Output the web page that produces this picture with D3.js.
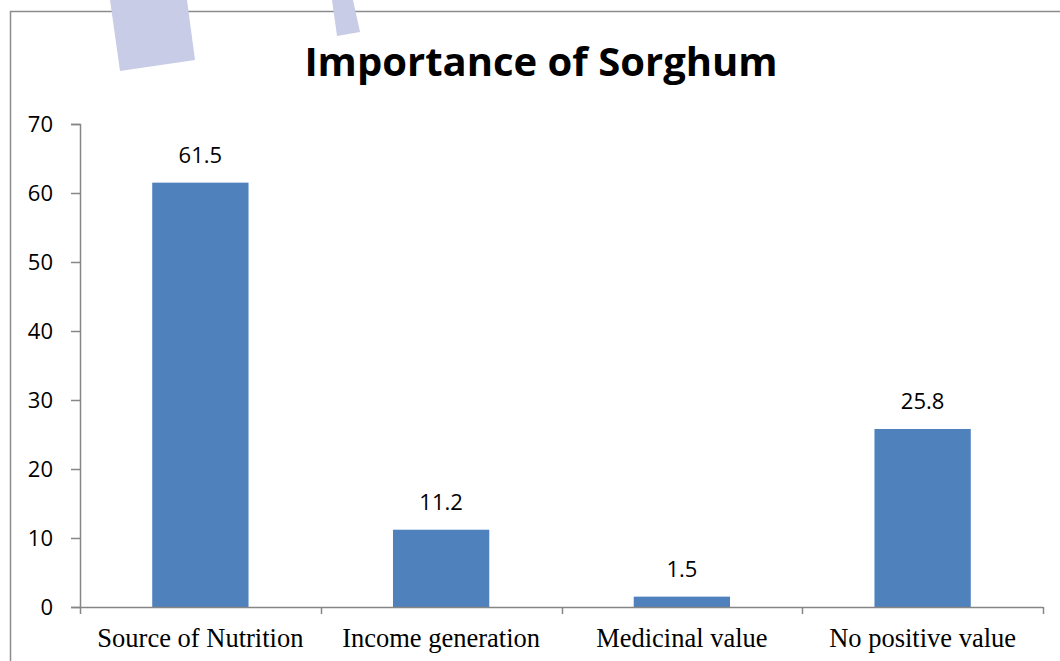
<!DOCTYPE html>
<html>
<head>
<meta charset="utf-8">
<script src="https://cdn.jsdelivr.net/npm/d3@7"></script>
<style>
  body { margin: 0; background: #fff; }
  svg { display: block; }
</style>
</head>
<body>
<figure id="chart" style="margin:0"></figure>
<script>
const categories = ["Source of Nutrition", "Income generation", "Medicinal value", "No positive value"];
const values = [61.5, 11.2, 1.5, 25.8];
const yTicks = [0, 10, 20, 30, 40, 50, 60, 70];

const width = 1060, height = 661;
const margin = { top: 124, right: 17, bottom: 54, left: 80 };

const svg = d3.select("figure#chart")
  .append("svg")
  .attr("width", width)
  .attr("height", height);

// outer frame (only left and top show in the crop)
svg.append("path")
  .attr("d", `M10.5,${height} V11.5 H${width}`)
  .attr("fill", "none")
  .attr("stroke", "#8c8c8c")
  .attr("stroke-width", 1.5);

const x = d3.scaleBand()
  .domain(categories)
  .range([margin.left, width - margin.right])
  .paddingInner(0.6)
  .paddingOuter(0.3);

const y = d3.scaleLinear()
  .domain([0, 70])
  .range([height - margin.bottom, margin.top]);

// bars
svg.selectAll("rect.bar")
  .data(values)
  .enter().append("rect")
  .attr("class", "bar")
  .attr("x", (d, i) => x(categories[i]))
  .attr("width", x.bandwidth())
  .attr("y", d => y(d))
  .attr("height", d => y(0) - y(d))
  .attr("fill", "#4f81bd");

// value labels
svg.selectAll("text.val")
  .data(values)
  .enter().append("text")
  .attr("class", "val")
  .attr("x", (d, i) => x(categories[i]) + x.bandwidth() / 2)
  .attr("y", d => y(d) - 20)
  .attr("text-anchor", "middle")
  .style("font-family", "'Open Sans', sans-serif")
  .style("font-size", "22px")
  .text(d => d);

// y axis
const yAxis = svg.append("g")
  .attr("transform", `translate(${margin.left},0)`)
  .call(d3.axisLeft(y).tickValues(yTicks).tickSize(9).tickPadding(18));
yAxis.selectAll("text")
  .style("font-family", "'Open Sans', sans-serif")
  .style("font-size", "22px")
  .attr("fill", "#000");

// x axis with ticks on band edges
const edges = categories.map(c => x(c) - x.step() * x.paddingInner() / 2);
edges.push(width - margin.right);
const xAxis = svg.append("g")
  .attr("transform", `translate(0,${y(0)})`);
xAxis.append("line")
  .attr("x1", margin.left).attr("x2", width - margin.right)
  .attr("y1", 0.5).attr("y2", 0.5);
xAxis.selectAll("line.tick")
  .data(edges)
  .enter().append("line")
  .attr("class", "tick")
  .attr("x1", d => Math.round(d) + 0.5).attr("x2", d => Math.round(d) + 0.5)
  .attr("y1", 0).attr("y2", 7);
xAxis.selectAll("line").attr("stroke", "#868686").attr("stroke-width", 1.5);
xAxis.selectAll("text")
  .data(categories)
  .enter().append("text")
  .attr("x", d => x(d) + x.bandwidth() / 2)
  .attr("y", 40)
  .attr("text-anchor", "middle")
  .style("font-family", "'Liberation Serif', serif")
  .style("font-size", "26.5px")
  .text(d => d);

yAxis.selectAll("line, path").attr("stroke", "#868686").attr("stroke-width", 1.5);

// title
svg.append("text")
  .attr("x", 541)
  .attr("y", 76)
  .attr("text-anchor", "middle")
  .style("font-family", "'Open Sans', sans-serif")
  .style("font-weight", "bold")
  .style("font-size", "40px")
  .text("Importance of Sorghum");

// lavender scraps over the top edge
const scraps = [
  [[110, 0], [187, 0], [195, 60], [120, 71]],
  [[332, 0], [353, 0], [360, 32], [337, 36]]
];
svg.selectAll("polygon")
  .data(scraps)
  .enter().append("polygon")
  .attr("points", d => d.map(p => p.join(",")).join(" "))
  .attr("fill", "#c8cce6");
</script>
</body>
</html>
